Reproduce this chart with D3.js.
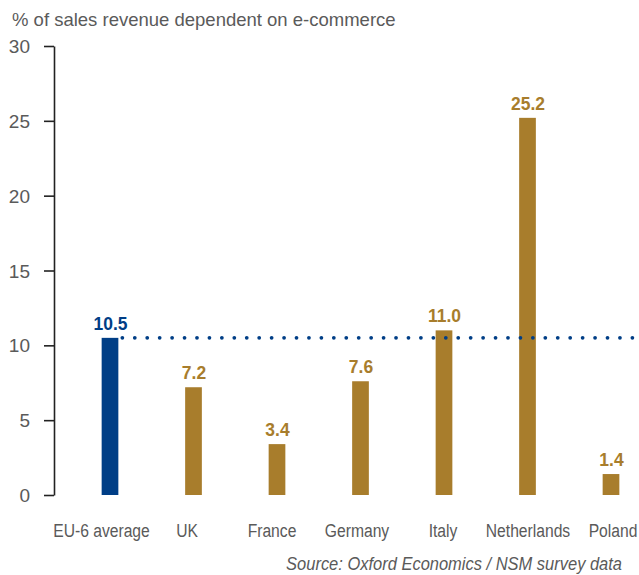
<!DOCTYPE html>
<html><head><meta charset="utf-8">
<script src="https://cdn.jsdelivr.net/npm/d3@7"></script>
<style>body{margin:0;background:#fff;}svg{display:block;}</style>
</head><body>
<script>
const categories = ["EU-6 average","UK","France","Germany","Italy","Netherlands","Poland"];
const values = [10.5, 7.2, 3.4, 7.6, 11.0, 25.2, 1.4];
const yTicks = [0,5,10,15,20,25,30];
const averageValue = 10.5;
const title = "% of sales revenue dependent on e-commerce";
const source = "Source: Oxford Economics / NSM survey data";

const W = 639, H = 575;
const svg = d3.select("body").append("svg").attr("width", W).attr("height", H);
const font = "'Liberation Sans', Arial, Helvetica, sans-serif";
const gray = "#5a5a5a", gold = "#a87d2c", blue = "#003e86";

const y = d3.scaleLinear().domain([0,30]).range([495,46]);
const x = d3.scaleBand().domain(categories).range([68.25,652.75]).paddingInner(0.8).paddingOuter(0.4);

svg.append("text").attr("x", 12).attr("y", 26).attr("font-family", font).attr("font-size", 18.5)
  .attr("fill", gray).text(title);

const yAxis = svg.append("g").attr("transform","translate(54,0)")
  .call(d3.axisLeft(y).tickValues(yTicks).tickSize(10).tickPadding(14).tickSizeOuter(0));
yAxis.select(".domain").attr("stroke","#222").attr("stroke-width",1.6);
yAxis.selectAll(".tick line").attr("stroke","#222").attr("stroke-width",1.6);
yAxis.selectAll(".tick text").attr("font-family", font).attr("font-size", 19).attr("fill", gray).attr("dy","0.35em");

svg.selectAll("rect.bar").data(categories).join("rect").attr("class","bar")
  .attr("x", d => x(d)).attr("width", x.bandwidth())
  .attr("y", (d,i) => y(values[i])).attr("height", (d,i) => y(0) - y(values[i]))
  .attr("fill", (d,i) => i === 0 ? blue : gold);

// dotted average line
svg.append("line").attr("x1", x(categories[0]) + x.bandwidth() + 4).attr("x2", 633)
  .attr("y1", y(averageValue)).attr("y2", y(averageValue))
  .attr("stroke", blue).attr("stroke-width", 3.8).attr("stroke-linecap","round")
  .attr("stroke-dasharray","0 12.44");

svg.selectAll("text.val").data(categories).join("text").attr("class","val")
  .attr("text-anchor","middle").attr("font-family", font).attr("font-weight","bold").attr("font-size", 19)
  .attr("fill", (d,i) => i === 0 ? blue : gold)
  .attr("transform", (d,i) => `translate(${x(d) + x.bandwidth()/2 + 0.5},${y(values[i]) - 8}) scale(0.92,1)`)
  .text((d,i) => values[i].toFixed(1));

svg.selectAll("text.cat").data(categories).join("text").attr("class","cat")
  .attr("text-anchor","middle").attr("font-family", font).attr("font-size", 18).attr("fill", gray)
  .attr("transform", (d,i) => `translate(${[101.5,187,272,357,443,528,613][i]},537) scale(0.87,1)`)
  .text(d => d);

svg.append("text").attr("text-anchor","end").attr("font-family", font).attr("font-style","italic")
  .attr("font-size", 18).attr("fill", gray)
  .attr("transform","translate(622,570) scale(0.915,1)").text(source);
</script>
</body></html>
